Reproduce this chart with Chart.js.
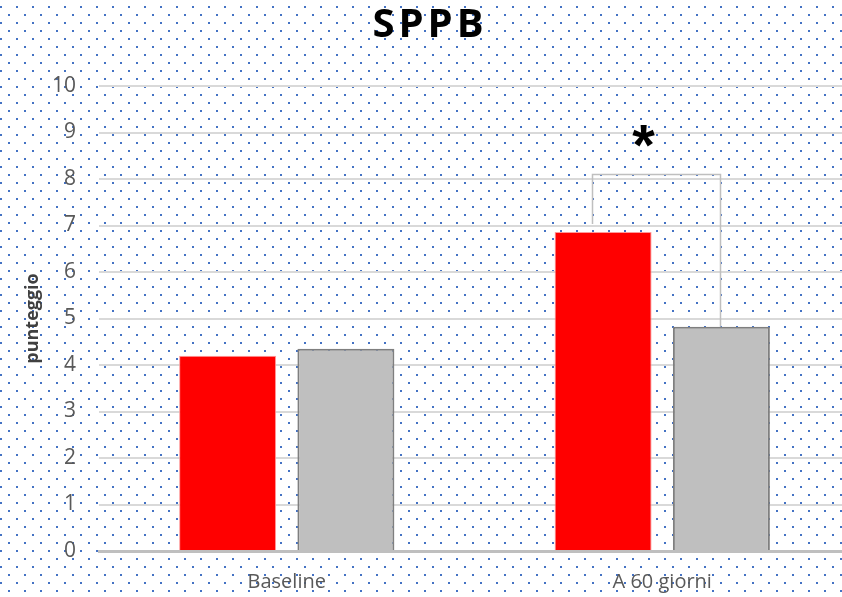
<!DOCTYPE html>
<html>
<head>
<meta charset="utf-8">
<script src="https://cdn.jsdelivr.net/npm/chart.js@4/dist/chart.umd.min.js"></script>
<style>
  html, body { margin: 0; padding: 0; overflow: hidden; background: #fff; }
  #wrap { width: 852px; height: 597px; }
</style>
</head>
<body>
<div id="wrap"><canvas id="chart"></canvas></div>
<script>
"use strict";
var titleText = "SPPB";
var categories = ["Baseline", "A 60 giorni"];
var redValues = [4.2, 6.86];
var greyValues = [4.35, 4.82];
var yTicks = [0, 1, 2, 3, 4, 5, 6, 7, 8, 9, 10];
var yTitle = "punteggio";
// significance bracket: from red bar (category 1) to grey bar, top at 8.1
var bracketCat = 1;
var bracketStart = 7.03;
var bracketTop = 8.1;
var bracketMark = "*";
var markValue = 8.95;

function dotPattern(ctx){
    var c = document.createElement("canvas");
    c.width = 16; c.height = 16;
    var g = c.getContext("2d");
    g.fillStyle = "#ffffff";
    g.fillRect(0, 0, 16, 16);
    g.fillStyle = "#4472C4";
    g.fillRect(0, 6, 2, 2);
    g.fillRect(8, 14, 2, 2);
    return ctx.createPattern(c, "repeat");
}

var bgPlugin = {
    id: "dots",
    beforeDraw: function(chart){
        var ctx = chart.ctx;
        ctx.save();
        ctx.fillStyle = dotPattern(ctx);
        ctx.fillRect(0, 0, chart.width, chart.height);
        ctx.restore();
    }
};

var extrasPlugin = {
    id: "extras",
    afterDraw: function(chart){
        var ctx = chart.ctx;
        var y = chart.scales.y;
        var red = chart.getDatasetMeta(0).data[bracketCat];
        var grey = chart.getDatasetMeta(1).data[bracketCat];
        var xl = Math.round(red.x - 11) + 0.5;
        var xr = Math.round(grey.x - 1) + 0.5;
        var yt = Math.round(y.getPixelForValue(bracketTop)) + 0.5;
        ctx.save();
        ctx.strokeStyle = "#BFBFBF";
        ctx.lineWidth = 1.5;
        ctx.beginPath();
        ctx.moveTo(xl, y.getPixelForValue(bracketStart));
        ctx.lineTo(xl, yt);
        ctx.lineTo(xr, yt);
        ctx.lineTo(xr, grey.y);
        ctx.stroke();

        ctx.fillStyle = "#000";
        ctx.font = "bold 58px 'Liberation Sans'";
        ctx.textAlign = "center";
        ctx.textBaseline = "middle";
        ctx.fillText(bracketMark, (xl + xr) / 2 - 13, y.getPixelForValue(markValue) + 14);

        // title
        ctx.font = "bold 40px 'Open Sans'";
        ctx.letterSpacing = "4px";
        ctx.textAlign = "center";
        ctx.textBaseline = "middle";
        ctx.fillText(titleText, 428 + 2, 26);
        ctx.restore();
    }
};

var ctx = document.getElementById("chart").getContext("2d");
var chart = new Chart(ctx, {
    type: "bar",
    data: {
        labels: categories,
        datasets: [
            {
                data: redValues,
                backgroundColor: "#FF0000",
                borderColor: "#FF9A9A",
                borderWidth: 1,
                categoryPercentage: 0.63,
                barPercentage: 0.82
            },
            {
                data: greyValues,
                backgroundColor: "#BFBFBF",
                borderColor: "#7F7F7F",
                borderWidth: 2,
                categoryPercentage: 0.63,
                barPercentage: 0.82
            }
        ]
    },
    options: {
        responsive: true,
        maintainAspectRatio: false,
        animation: false,
        layout: { padding: { top: 86, right: 2, left: 0, bottom: 0 } },
        plugins: {
            legend: { display: false },
            title: { display: false },
            tooltip: { enabled: false }
        },
        scales: {
            x: {
                grid: { display: false, drawTicks: false },
                border: { display: true, color: "#BFBFBF", width: 3 },
                ticks: {
                    color: "#595959",
                    font: { family: "'Open Sans'", size: 20 },
                    padding: 19
                },
                afterFit: function(scale){ scale.height = 46; }
            },
            y: {
                min: 0,
                max: 10,
                afterBuildTicks: function(scale){
                    scale.ticks = yTicks.map(function(v){ return { value: v }; });
                },
                grid: { color: "#D9D9D9", lineWidth: 2, drawTicks: false },
                border: { display: false },
                ticks: {
                    color: "#595959",
                    font: { family: "'Open Sans'", size: 21 },
                    padding: 23
                },
                title: {
                    display: true,
                    text: yTitle,
                    color: "#404040",
                    font: { family: "'Open Sans'", size: 18, weight: "bold" },
                    padding: { top: 22, bottom: 0 }
                },
                afterFit: function(scale){ scale.width = 99; }
            }
        }
    },
    plugins: [bgPlugin, extrasPlugin]
});
</script>
</body>
</html>
